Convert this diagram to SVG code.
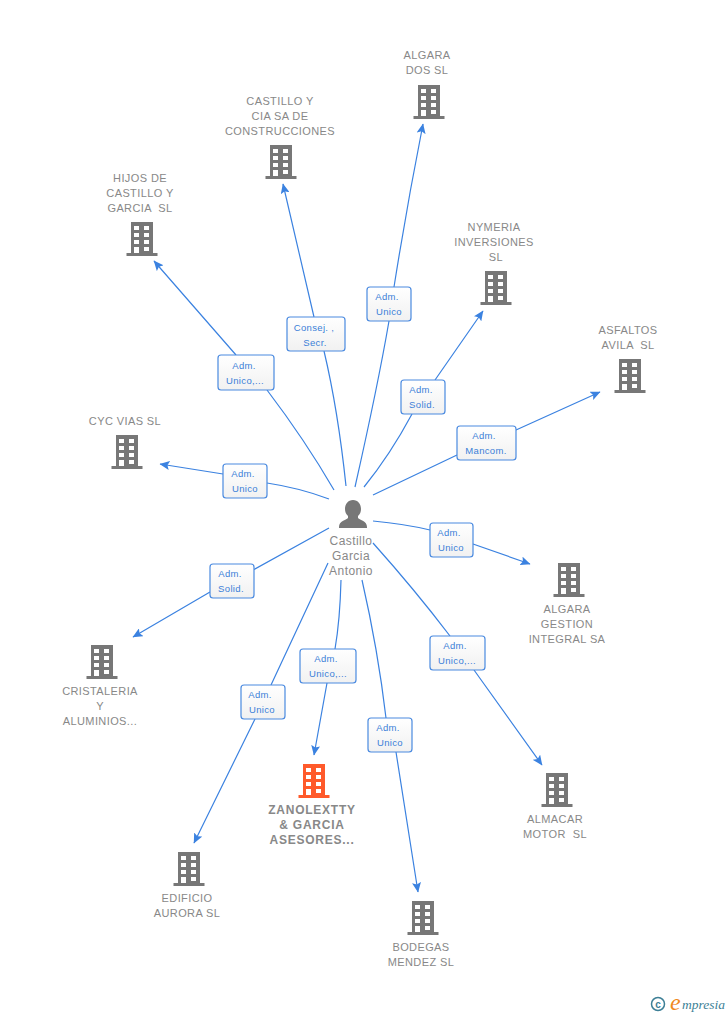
<svg xmlns="http://www.w3.org/2000/svg" xmlns:xlink="http://www.w3.org/1999/xlink" width="728" height="1015" viewBox="0 0 728 1015">
<style>
.n{font:11px "Liberation Sans",Arial,sans-serif;fill:#888;text-anchor:middle;letter-spacing:.4px;white-space:pre}
.b{font-weight:bold;font-size:12px;letter-spacing:.75px}
.p{font:12px "Liberation Sans",Arial,sans-serif;fill:#888;text-anchor:middle;letter-spacing:.45px}
.l{font:9.5px "Liberation Sans",Arial,sans-serif;fill:#3b7fd8;text-anchor:middle;letter-spacing:.35px}
.c{fill:none;stroke:#3b82e0;stroke-width:1.2}
.box{fill:url(#g);stroke:#4a8ae0;stroke-width:1.2}
</style>
<defs>
<linearGradient id="g" x1="0" y1="0" x2="0" y2="1"><stop offset="0" stop-color="#fff"/><stop offset="1" stop-color="#f1f1f1"/></linearGradient>
<marker id="a" markerWidth="11" markerHeight="9" refX="9.5" refY="4.5" orient="auto" markerUnits="userSpaceOnUse"><path d="M0 0L10 4.5L0 9L2 4.5Z" fill="#3b82e0"/></marker>
<symbol id="i" width="32" height="34" viewBox="0 0 32 34" overflow="visible">
<path fill-rule="evenodd" d="M5 0H27V31H31.5V34H.5V31H5ZM8 4V8H13V4ZM18 4V8H23V4ZM8 11V15H13V11ZM18 11V15H23V11ZM8 18V22H13V18ZM18 18V22H23V18ZM8 25V31H13V25ZM18 25V29H23V25Z"/>
</symbol>
</defs>
<g id="connectors">
<path class="c" marker-end="url(#a)" d="M355 487Q378 385 389 321M394 287Q407 205 423 124"/>
<path class="c" marker-end="url(#a)" d="M346 486Q338 410 324 351M314 317L283 184"/>
<path class="c" marker-end="url(#a)" d="M334 490Q305 440 267 390M236 355L154 261"/>
<path class="c" marker-end="url(#a)" d="M364 487Q390 455 412 414M435 380L483 311"/>
<path class="c" marker-end="url(#a)" d="M373 495L457 455M516 430L600 392"/>
<path class="c" marker-end="url(#a)" d="M329 499Q300 488 267 483M223 474L160 464"/>
<path class="c" marker-end="url(#a)" d="M373 521Q405 524 430 530M473 544L530 564"/>
<path class="c" marker-end="url(#a)" d="M329 528L253 570M210 592L133 637"/>
<path class="c" marker-end="url(#a)" d="M373 543Q415 590 450 636M474 670L542 765"/>
<path class="c" marker-end="url(#a)" d="M341 580Q340 620 335 649M327 683L314 755"/>
<path class="c" marker-end="url(#a)" d="M328 563L271 685M255 719L194 843"/>
<path class="c" marker-end="url(#a)" d="M362 580Q378 650 386 718M396 752L418 892"/>
</g>
<g id="edge-labels">
<rect class="box" x="367" y="287" width="44" height="34" rx="3"/><text class="l" x="387" y="300">Adm.</text><text class="l" x="389" y="315">Unico</text>
<rect class="box" x="287" y="317" width="58" height="34" rx="3"/><text class="l" x="314" y="331">Consej. ,</text><text class="l" x="315" y="346">Secr.</text>
<rect class="box" x="218" y="355" width="56" height="35" rx="3"/><text class="l" x="244" y="369">Adm.</text><text class="l" x="245" y="384">Unico,...</text>
<rect class="box" x="401" y="380" width="44" height="34" rx="3"/><text class="l" x="421" y="393">Adm.</text><text class="l" x="422" y="408">Solid.</text>
<rect class="box" x="457" y="426" width="59" height="34" rx="3"/><text class="l" x="484" y="439">Adm.</text><text class="l" x="486" y="454">Mancom.</text>
<rect class="box" x="223" y="464" width="44" height="34" rx="3"/><text class="l" x="243" y="477">Adm.</text><text class="l" x="245" y="492">Unico</text>
<rect class="box" x="430" y="523" width="43" height="34" rx="3"/><text class="l" x="449" y="536">Adm.</text><text class="l" x="451" y="551">Unico</text>
<rect class="box" x="210" y="564" width="44" height="34" rx="3"/><text class="l" x="230" y="577">Adm.</text><text class="l" x="231" y="592">Solid.</text>
<rect class="box" x="430" y="636" width="55" height="34" rx="3"/><text class="l" x="455" y="649">Adm.</text><text class="l" x="457" y="664">Unico,...</text>
<rect class="box" x="300" y="649" width="56" height="34" rx="3"/><text class="l" x="326" y="662">Adm.</text><text class="l" x="328" y="677">Unico,...</text>
<rect class="box" x="241" y="685" width="44" height="34" rx="3"/><text class="l" x="260" y="698">Adm.</text><text class="l" x="262" y="713">Unico</text>
<rect class="box" x="368" y="718" width="44" height="34" rx="3"/><text class="l" x="388" y="731">Adm.</text><text class="l" x="390" y="746">Unico</text>
</g>
<g id="person"><path fill="#777" d="M353 500c-5 0-8 4-8 9 0 3 1 5 3 7v2c-2 2-9 3-9 9v1h28v-1c0-6-7-7-9-9v-2c2-2 3-4 3-7 0-5-3-9-8-9Z"/>
<text class="p" x="351" y="545">Castillo</text><text class="p" x="351" y="560">Garcia</text><text class="p" x="351" y="575">Antonio</text></g>
<g id="n1" fill="#777"><use xlink:href="#i" href="#i" x="413" y="85"/><text class="n" x="427" y="59">ALGARA</text><text class="n" x="427" y="74">DOS SL</text></g>
<g id="n2" fill="#777"><use href="#i" x="265" y="145"/><text class="n" x="280" y="105">CASTILLO Y</text><text class="n" x="280" y="120">CIA SA DE</text><text class="n" x="280" y="135">CONSTRUCCIONES</text></g>
<g id="n3" fill="#777"><use href="#i" x="126" y="222"/><text class="n" x="140" y="182">HIJOS DE</text><text class="n" x="140" y="197">CASTILLO Y</text><text class="n" x="140" y="212">GARCIA  SL</text></g>
<g id="n4" fill="#777"><use href="#i" x="480" y="271"/><text class="n" x="494" y="231">NYMERIA</text><text class="n" x="494" y="246">INVERSIONES</text><text class="n" x="496" y="261">SL</text></g>
<g id="n5" fill="#777"><use href="#i" x="614" y="359"/><text class="n" x="628" y="334">ASFALTOS</text><text class="n" x="628" y="349">AVILA  SL</text></g>
<g id="n6" fill="#777"><use href="#i" x="111" y="435"/><text class="n" x="125" y="425">CYC VIAS SL</text></g>
<g id="n7" fill="#777"><use href="#i" x="553" y="563"/><text class="n" x="567" y="613">ALGARA</text><text class="n" x="567" y="628">GESTION</text><text class="n" x="567" y="643">INTEGRAL SA</text></g>
<g id="n8" fill="#777"><use href="#i" x="86" y="645"/><text class="n" x="100" y="695">CRISTALERIA</text><text class="n" x="100" y="710">Y</text><text class="n" x="100" y="725">ALUMINIOS...</text></g>
<g id="n9" fill="#777"><use href="#i" x="541" y="773"/><text class="n" x="555" y="823">ALMACAR</text><text class="n" x="555" y="838">MOTOR  SL</text></g>
<g id="n10" fill="#ff5a2b"><use href="#i" x="298" y="764"/><text class="n b" x="312" y="814">ZANOLEXTTY</text><text class="n b" x="312" y="829">&amp; GARCIA</text><text class="n b" x="312" y="844">ASESORES...</text></g>
<g id="n11" fill="#777"><use href="#i" x="173" y="852"/><text class="n" x="187" y="902">EDIFICIO</text><text class="n" x="187" y="917">AURORA SL</text></g>
<g id="n12" fill="#777"><use href="#i" x="407" y="901"/><text class="n" x="421" y="951">BODEGAS</text><text class="n" x="421" y="966">MENDEZ SL</text></g>
<g id="logo"><circle cx="658" cy="1004" r="6.500" fill="none" stroke="#3d7f96" stroke-width="1.500"/><text x="658" y="1007.500" font-family="Liberation Sans,sans-serif" font-size="10" font-weight="bold" fill="#3d7f96" text-anchor="middle">c</text>
<text x="670" y="1010" font-family="Liberation Serif,serif" font-style="italic" font-size="24" fill="#f08a1d">e</text><text x="682" y="1009" font-family="Liberation Serif,serif" font-style="italic" font-size="13.500" fill="#3d7f96">mpresia</text></g>
</svg>
